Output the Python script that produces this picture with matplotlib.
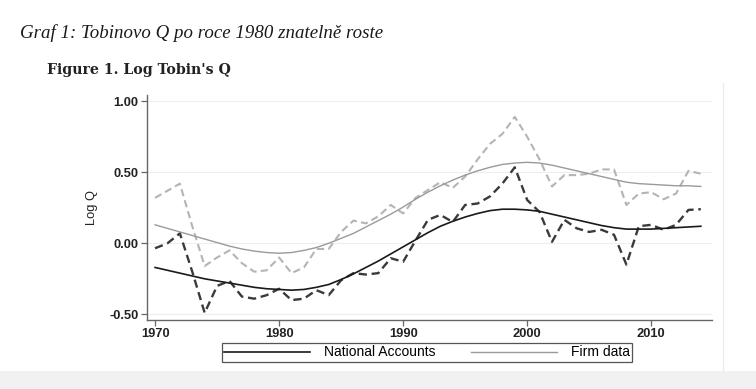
"""Log Tobin's Q: National Accounts vs firm data."""

import matplotlib.pyplot as plt
from matplotlib.lines import Line2D
from matplotlib.patches import Rectangle

years = list(range(1970, 2015))

# annual series (dashed)
na_annual = [-0.035, 0.0, 0.07, -0.20, -0.49, -0.30, -0.265, -0.375, -0.39, -0.365,
             -0.32, -0.40, -0.39, -0.33, -0.365, -0.26, -0.21, -0.22, -0.21, -0.105,
             -0.13, 0.02, 0.165, 0.20, 0.15, 0.27, 0.28, 0.33, 0.42, 0.535,
             0.305, 0.22, 0.01, 0.165, 0.105, 0.08, 0.095, 0.06, -0.15, 0.12,
             0.13, 0.095, 0.13, 0.235, 0.24]
firm_annual = [0.32, 0.37, 0.42, 0.12, -0.16, -0.10, -0.05, -0.14, -0.20, -0.19,
               -0.10, -0.21, -0.17, -0.04, -0.04, 0.08, 0.16, 0.14, 0.19, 0.27,
               0.21, 0.32, 0.375, 0.43, 0.39, 0.47, 0.59, 0.70, 0.77, 0.89,
               0.75, 0.59, 0.40, 0.48, 0.48, 0.49, 0.52, 0.52, 0.27, 0.35,
               0.36, 0.31, 0.35, 0.51, 0.49]

# smoothed trends (solid)
na_trend = [-0.17, -0.19, -0.21, -0.23, -0.25, -0.265, -0.28, -0.295, -0.31, -0.32,
            -0.325, -0.33, -0.325, -0.31, -0.29, -0.255, -0.215, -0.17, -0.125, -0.075,
            -0.025, 0.025, 0.075, 0.12, 0.155, 0.185, 0.21, 0.23, 0.24, 0.24,
            0.235, 0.225, 0.205, 0.185, 0.165, 0.145, 0.125, 0.11, 0.10, 0.10,
            0.10, 0.105, 0.11, 0.115, 0.12]
firm_trend = [0.13, 0.105, 0.08, 0.055, 0.03, 0.005, -0.02, -0.04, -0.055, -0.065,
              -0.07, -0.065, -0.05, -0.03, 0.0, 0.035, 0.07, 0.115, 0.16, 0.205,
              0.255, 0.31, 0.36, 0.405, 0.445, 0.48, 0.51, 0.535, 0.555, 0.565,
              0.57, 0.565, 0.55, 0.53, 0.51, 0.49, 0.47, 0.45, 0.43, 0.42,
              0.415, 0.41, 0.405, 0.405, 0.40]

y_ticks = [-0.5, 0.0, 0.5, 1.0]
y_tick_labels = ["-0.50", "0.00", "0.50", "1.00"]
x_ticks = [1970, 1980, 1990, 2000, 2010]

sans = "Liberation Sans"
serif = "Liberation Serif"

fig = plt.figure(figsize=(7.56, 3.89), dpi=100)
fig.patch.set_facecolor("white")

# page background bits
fig.patches.append(Rectangle((0, 0), 1, 18 / 389, transform=fig.transFigure,
                             facecolor="#f1f1f1", edgecolor="none", zorder=-5))
fig.lines.append(Line2D([723 / 756, 723 / 756], [18 / 389, 1 - 83 / 389],
                        transform=fig.transFigure, color="#ececec", lw=1))

fig.text(20 / 756, 1 - 33 / 389, "Graf 1: Tobinovo Q po roce 1980 znatelně roste",
         family=serif, style="italic", fontsize=13.6, color="#1a1a1a", va="center")
fig.text(47 / 756, 1 - 70 / 389, "Figure 1. Log Tobin's Q",
         family="DejaVu Serif", weight="bold", fontsize=10.2, color="#222222",
         va="center")

ax = fig.add_axes([147 / 756, 1 - 320 / 389, (712 - 147) / 756, (320 - 95) / 389])

ax.plot(years, firm_annual, color="#b4b4b4", lw=1.5, ls=(0, (3.5, 2)))
ax.plot(years, na_annual, color="#3a3a3a", lw=1.7, ls=(0, (3.5, 2)))
l_firm, = ax.plot(years, firm_trend, color="#9a9a9a", lw=1.0)
l_na, = ax.plot(years, na_trend, color="#1a1a1a", lw=1.2)

ax.set_xlim(1969.35, 2014.9)
ax.set_ylim(-0.54, 1.044)
ax.set_yticks(y_ticks)
ax.set_yticklabels(y_tick_labels)
ax.set_xticks(x_ticks)
ax.grid(axis="y", color="#eeeeee", lw=0.8)
ax.set_axisbelow(True)

for side in ("top", "right"):
    ax.spines[side].set_visible(False)
for side in ("left", "bottom"):
    ax.spines[side].set_color("#666666")
    ax.spines[side].set_linewidth(1.0)
ax.tick_params(length=4, width=0.9, color="#666666", labelsize=9.3,
               labelcolor="#222222", pad=2)
for lab in ax.get_xticklabels() + ax.get_yticklabels():
    lab.set_family(sans)
    lab.set_weight("bold")

ax.set_ylabel("Log Q", family=sans, fontsize=9.3, color="#222222", labelpad=8)

leg = fig.legend([l_na, l_firm], ["National Accounts", "Firm data"],
                 loc="center", bbox_to_anchor=(427 / 756, 1 - 352.5 / 389), ncol=2,
                 prop={"family": sans, "size": 10}, handlelength=6.2,
                 columnspacing=2.6, handletextpad=1.0, fancybox=False,
                 borderpad=0.15, edgecolor="#555555", framealpha=1)
leg.get_frame().set_linewidth(0.9)

fig.savefig("out.png", dpi=100)
